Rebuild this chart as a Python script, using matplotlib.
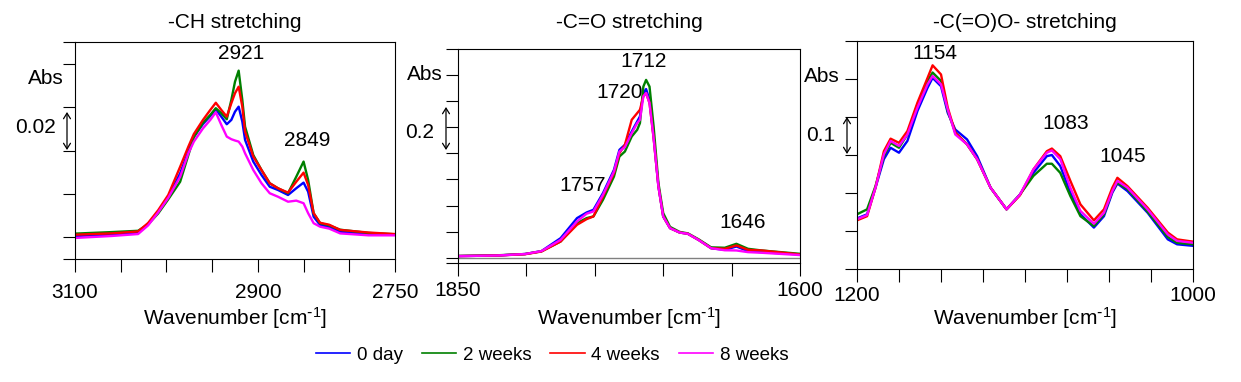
import matplotlib
matplotlib.use("Agg")
import matplotlib.pyplot as plt
from matplotlib.lines import Line2D
from matplotlib.patches import FancyArrowPatch

plt.rcParams['font.family'] = ['Liberation Sans', 'DejaVu Sans']
plt.rcParams['mathtext.default'] = 'regular'

series = ["0 day", "2 weeks", "4 weeks", "8 weeks"]
colors = ["#0000ff", "#008000", "#ff0000", "#ff00ff"]

# -CH stretching
w1 = [3100, 3060, 3031, 3020, 3009, 2998, 2985, 2976, 2970, 2960, 2952, 2946, 2940, 2934, 2929,
      2925, 2921, 2917, 2914, 2905, 2896, 2887, 2878, 2867, 2858, 2850, 2845, 2839, 2832, 2822,
      2810, 2779, 2750]
ch_0d = [0.0006, 0.0012, 0.0021, 0.0062, 0.0118, 0.0185, 0.0295, 0.0395, 0.0464, 0.0522, 0.0559,
         0.0590, 0.0556, 0.0521, 0.0541, 0.0579, 0.0602, 0.0533, 0.0449, 0.0349, 0.0287, 0.0233,
         0.0218, 0.0195, 0.0226, 0.0252, 0.0210, 0.0095, 0.0057, 0.0047, 0.0026, 0.0014, 0.0012]
ch_2w = [0.0017, 0.0024, 0.0030, 0.0060, 0.0110, 0.0175, 0.0256, 0.0379, 0.0461, 0.0528, 0.0564,
         0.0595, 0.0572, 0.0544, 0.0633, 0.0717, 0.0768, 0.0633, 0.0510, 0.0379, 0.0310, 0.0249,
         0.0226, 0.0203, 0.0279, 0.0349, 0.0264, 0.0111, 0.0065, 0.0055, 0.0035, 0.0020, 0.0014]
ch_4w = [0.0012, 0.0018, 0.0027, 0.0066, 0.0125, 0.0195, 0.0325, 0.0418, 0.0476, 0.0541, 0.0587,
         0.0620, 0.0587, 0.0556, 0.0618, 0.0664, 0.0694, 0.0602, 0.0487, 0.0372, 0.0310, 0.0249,
         0.0226, 0.0206, 0.0256, 0.0298, 0.0241, 0.0111, 0.0067, 0.0058, 0.0034, 0.0022, 0.0015]
ch_8w = [-0.0003, 0.0006, 0.0015, 0.0055, 0.0115, 0.0182, 0.0279, 0.0387, 0.0441, 0.0502, 0.0541,
         0.0576, 0.0518, 0.0464, 0.0452, 0.0446, 0.0441, 0.0418, 0.0387, 0.0310, 0.0249, 0.0203,
         0.0187, 0.0164, 0.0169, 0.0157, 0.0111, 0.0065, 0.0049, 0.0040, 0.0018, 0.0009, 0.0009]

# -C=O stretching
w2 = [1850, 1821, 1801, 1789, 1775, 1763, 1756, 1751, 1744, 1736, 1732, 1728, 1723, 1719, 1717,
      1714.5, 1712.5, 1710, 1707, 1703.5, 1700, 1695, 1688, 1682, 1674, 1665, 1655, 1646.5, 1638,
      1628, 1600]
co_0d = [0.008, 0.011, 0.018, 0.032, 0.094, 0.190, 0.217, 0.230, 0.310, 0.421, 0.517, 0.541, 0.605,
         0.653, 0.677, 0.789, 0.808, 0.757, 0.581, 0.342, 0.198, 0.142, 0.121, 0.115, 0.085, 0.046,
         0.038, 0.054, 0.032, 0.027, 0.016]
co_2w = [0.009, 0.012, 0.018, 0.031, 0.078, 0.166, 0.190, 0.198, 0.278, 0.389, 0.485, 0.509, 0.581,
         0.613, 0.645, 0.820, 0.852, 0.820, 0.629, 0.358, 0.214, 0.148, 0.124, 0.117, 0.088, 0.050,
         0.048, 0.067, 0.043, 0.035, 0.019]
co_4w = [0.008, 0.011, 0.017, 0.030, 0.078, 0.158, 0.185, 0.198, 0.294, 0.405, 0.501, 0.541, 0.661,
         0.693, 0.709, 0.773, 0.789, 0.741, 0.573, 0.342, 0.198, 0.142, 0.121, 0.115, 0.085, 0.046,
         0.043, 0.059, 0.038, 0.035, 0.016]
co_8w = [0.008, 0.011, 0.018, 0.032, 0.086, 0.174, 0.211, 0.222, 0.302, 0.413, 0.509, 0.530, 0.597,
         0.645, 0.661, 0.773, 0.789, 0.741, 0.573, 0.342, 0.198, 0.142, 0.121, 0.115, 0.085, 0.046,
         0.036, 0.035, 0.027, 0.024, 0.013]

# -C(=O)O- stretching
w3 = [1200, 1194, 1189, 1184, 1180, 1175, 1170, 1164, 1158, 1155, 1150, 1146, 1141.5, 1134.5,
      1128.5, 1120.5, 1111, 1103, 1095, 1087, 1084, 1079, 1073, 1067, 1059, 1053, 1048, 1045,
      1039, 1027, 1015, 1009.5, 1000]
coo_0d = [0.133, 0.144, 0.214, 0.289, 0.319, 0.306, 0.337, 0.416, 0.477, 0.503, 0.481, 0.411, 0.367,
          0.341, 0.297, 0.214, 0.157, 0.196, 0.253, 0.297, 0.300, 0.271, 0.201, 0.144, 0.109, 0.139,
          0.201, 0.225, 0.205, 0.148, 0.078, 0.065, 0.061]
coo_2w = [0.144, 0.157, 0.218, 0.297, 0.332, 0.319, 0.354, 0.433, 0.495, 0.517, 0.495, 0.416, 0.359,
          0.328, 0.289, 0.214, 0.157, 0.196, 0.245, 0.277, 0.277, 0.253, 0.192, 0.139, 0.113, 0.144,
          0.205, 0.227, 0.210, 0.151, 0.084, 0.069, 0.065]
coo_4w = [0.128, 0.139, 0.214, 0.310, 0.343, 0.332, 0.363, 0.438, 0.503, 0.536, 0.512, 0.425, 0.359,
          0.328, 0.289, 0.214, 0.157, 0.194, 0.262, 0.310, 0.317, 0.297, 0.232, 0.170, 0.128, 0.157,
          0.214, 0.240, 0.218, 0.161, 0.096, 0.078, 0.072]
coo_8w = [0.131, 0.142, 0.214, 0.302, 0.337, 0.324, 0.354, 0.425, 0.486, 0.508, 0.486, 0.420, 0.354,
          0.328, 0.289, 0.214, 0.157, 0.196, 0.262, 0.306, 0.312, 0.289, 0.214, 0.153, 0.119, 0.148,
          0.205, 0.232, 0.214, 0.157, 0.091, 0.074, 0.069]

W, H = 1241, 382
FS = 15


def fx(px):
    return px / W


def fy(py):
    return 1 - py / H


fig = plt.figure(figsize=(W / 100, H / 100), dpi=100)

panels = [
    dict(rect=(75, 42, 395, 259), title="-CH stretching", w=w1, ys=[ch_0d, ch_2w, ch_4w, ch_8w],
         xlim=(3100, 2750), xt=list(range(3100, 2749, -50)), xlab=[3100, 2900, 2750],
         ylim=(-0.01, 0.09), yt=[-0.01, 0, 0.02, 0.04, 0.06, 0.08, 0.09], pad=8,
         peaks=[("2921", 2918, 0.0845), ("2849", 2846, 0.0448)],
         abs_xy=(46, 79), scale="0.02", scale_xy=(36, 127), arrow=(67, 112, 150)),
    dict(rect=(458, 49, 800, 263), title="-C=O stretching", w=w2, ys=[co_0d, co_2w, co_4w, co_8w],
         xlim=(1850, 1600), xt=list(range(1850, 1599, -50)), xlab=[1850, 1600],
         ylim=(-0.025, 1.0), yt=[-0.025] + [0.125 * i for i in range(9)], pad=4,
         peaks=[("1712", 1714, 0.942), ("1720", 1732, 0.793), ("1757", 1758.6, 0.346),
                ("1646", 1641.7, 0.168)],
         abs_xy=(425, 75), scale="0.2", scale_xy=(420, 132), arrow=(446, 107, 150)),
    dict(rect=(857, 41, 1193, 269), title="-C(=O)O- stretching", w=w3,
         ys=[coo_0d, coo_2w, coo_4w, coo_8w],
         xlim=(1200, 1000), xt=list(range(1200, 999, -25)), xlab=[1200, 1000],
         ylim=(0, 0.6), yt=[0.1 * i for i in range(7)], pad=3.2,
         peaks=[("1154", 1153.6, 0.568), ("1083", 1076, 0.382), ("1045", 1042, 0.295)],
         abs_xy=(822, 77), scale="0.1", scale_xy=(821, 135), arrow=(847, 117, 154)),
]

for i, p in enumerate(panels):
    x0, y0, x1, y1 = p["rect"]
    ax = fig.add_axes([fx(x0), fy(y1), (x1 - x0) / W, (y1 - y0) / H])
    for ys, c in zip(p["ys"], colors):
        ax.plot(p["w"], ys, color=c, lw=1.7, solid_joinstyle='round')
    if i == 1:
        ax.axhline(0, color="#808080", lw=1, zorder=0)
    ax.set_xlim(*p["xlim"])
    ax.set_ylim(*p["ylim"])
    ax.set_xticks(p["xt"])
    ax.set_xticklabels([str(t) if t in p["xlab"] else "" for t in p["xt"]], fontsize=FS)
    ax.set_yticks(p["yt"])
    ax.set_yticklabels([])
    ax.tick_params(axis='x', direction='out', length=9, width=0.8, pad=p["pad"])
    ax.tick_params(axis='y', direction='out', length=8.5, width=0.8)
    for s in ax.spines.values():
        s.set_linewidth(0.8)
    for txt, xv, yv in p["peaks"]:
        ax.text(xv, yv, txt, fontsize=FS, ha='center', va='center')
    fig.text(fx((x0 + x1) / 2), fy(22), p["title"], fontsize=FS, ha='center', va='center')
    fig.text(fx((x0 + x1) / 2), fy(318), r"Wavenumber [cm$^{\text{-}1}$]", fontsize=FS,
             ha='center', va='center')
    fig.text(fx(p["abs_xy"][0]), fy(p["abs_xy"][1]), "Abs", fontsize=FS, ha='center', va='center')
    fig.text(fx(p["scale_xy"][0]), fy(p["scale_xy"][1]), p["scale"], fontsize=FS,
             ha='center', va='center')
    axx, ya, yb = p["arrow"]
    fig.add_artist(FancyArrowPatch(
        (fx(axx), fy(ya)), (fx(axx), fy(yb)), transform=fig.transFigure,
        arrowstyle='<->,head_length=4,head_width=2.5', color='black', lw=0.9,
        shrinkA=0, shrinkB=0))

handles = [Line2D([], [], color=c, lw=1.2) for c in colors]
fig.legend(handles, series, loc='center', bbox_to_anchor=(fx(552), fy(355)), ncol=4,
           frameon=False, fontsize=13.5, handlelength=1.85, handletextpad=0.35,
           columnspacing=1.0, borderaxespad=0, borderpad=0)

fig.savefig("out.png", dpi=100)
